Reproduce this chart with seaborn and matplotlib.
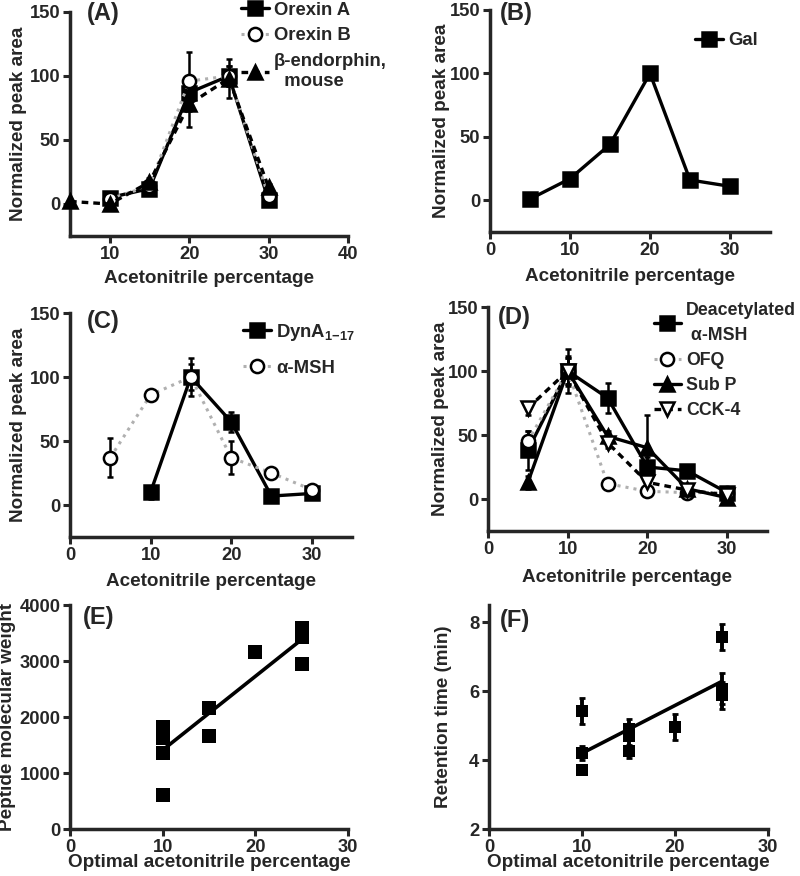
import matplotlib
matplotlib.use("Agg")
import matplotlib.pyplot as plt
import seaborn as sns

# ---- data ----
# (A)
a_x = [10, 15, 20, 25, 30]
orexin_a = [5, 12, 87, 100, 3]
orexin_a_err = [3, 3, 6, 8, 2]
orexin_b = [4, 14, 96, 100, 6]
orexin_b_err = [2, 3, 23, 8, 2]
bendo_x = [5, 10, 15, 20, 25, 30]
bendo = [2, 0, 17, 78, 98, 13]
bendo_err = [1, 5, 3, 18, 15, 3]

# (B)
b_x = [5, 10, 15, 20, 25, 30]
gal = [1, 17, 44, 100, 16, 11]
gal_err = [1, 2, 4, 3, 2, 2]

# (C)
dyn_x = [10, 15, 20, 25, 30]
dyn = [10, 100, 65, 7, 9]
dyn_err = [5, 15, 8, 2, 2]
msh_x = [5, 10, 15, 20, 25, 30]
msh = [37, 86, 100, 37, 25, 12]
msh_err = [15, 3, 10, 13, 3, 2]

# (D)
d_x = [5, 10, 15, 20, 25, 30]
deac_msh = [38, 100, 79, 25, 22, 5]
deac_msh_err = [15, 17, 12, 8, 3, 2]
ofq = [45, 100, 12, 6, 5, 5]
ofq_err = [8, 10, 2, 2, 2, 2]
subp = [13, 100, 49, 40, 8, 1]
subp_err = [5, 12, 4, 26, 3, 2]
cck4 = [71, 100, 44, 13, 7, 3]
cck4_err = [5, 10, 4, 8, 2, 2]

# (E)
e_x = [10, 10, 10, 10, 10, 15, 15, 20, 25, 25, 25]
e_mw = [1827, 1708, 1619, 1351, 607, 2155, 1667, 3167, 3583, 3435, 2946]

# (F)
f_x = [10, 10, 10, 15, 15, 15, 20, 25, 25, 25]
f_rt = [5.43, 4.21, 3.71, 4.9, 4.7, 4.25, 4.97, 7.57, 6.07, 5.88]
f_err = [0.38, 0.2, 0.12, 0.3, 0.3, 0.2, 0.38, 0.38, 0.45, 0.4]

sns.set_style("ticks")
plt.rcParams["font.family"] = ["Liberation Sans", "DejaVu Sans"]
plt.rcParams["font.weight"] = "bold"
plt.rcParams["axes.labelweight"] = "bold"
plt.rcParams["mathtext.default"] = "regular"

STYLES = {
    "sq": dict(marker="s", color="black", markerfacecolor="black", linestyle="-", lw=2.4),
    "circ": dict(marker="o", color="#b0b0b0", markerfacecolor="white", linestyle=":", lw=2.2),
    "tri": dict(marker="^", color="black", markerfacecolor="black", linestyle=(0, (2, 1.5)), lw=2.4),
    "tri_solid": dict(marker="^", color="black", markerfacecolor="black", linestyle="-", lw=2.4),
    "dtri": dict(marker="v", color="black", markerfacecolor="white", linestyle=(0, (2, 1.5)), lw=2.4),
}


def series(ax, x, y, err, kind, label):
    ax.errorbar(x, y, yerr=err, fmt="none", ecolor="black", elinewidth=1.8,
                capsize=2.5, capthick=1.8, zorder=2)
    sns.lineplot(x=x, y=y, ax=ax, label=label, markersize=9.5,
                 markeredgecolor="black", markeredgewidth=1.8, zorder=3,
                 clip_on=False, **STYLES[kind])


def style_axes(ax, tag, tx, ty):
    sns.despine(ax=ax)
    for s in ["left", "bottom"]:
        ax.spines[s].set_linewidth(2.5)
    ax.tick_params(direction="out", length=5, width=2.2, labelsize=13.2, pad=2)
    ax.text(tx, ty, tag, transform=ax.transAxes, fontsize=17, fontweight="bold",
            va="center", ha="left")


def peak_axes(ax, xlim, xticks, tag, tx, ty, xpad, ypad):
    ax.set_xlim(*xlim)
    ax.set_ylim(-25, 150)
    ax.set_xticks(xticks)
    ax.set_yticks([0, 50, 100, 150])
    ax.set_xlabel("Acetonitrile percentage", fontsize=13.6, labelpad=xpad)
    ax.set_ylabel("Normalized peak area", fontsize=13.6, labelpad=ypad)
    style_axes(ax, tag, tx, ty)


fig = plt.figure(figsize=(8, 8.76), dpi=100)
H = 876.0
axA = fig.add_axes([70 / 800, (H - 236) / H, 278 / 800, 224 / H])
axB = fig.add_axes([490 / 800, (H - 232) / H, 280 / 800, 222 / H])
axC = fig.add_axes([70 / 800, (H - 537) / H, 282 / 800, 224 / H])
axD = fig.add_axes([488 / 800, (H - 531) / H, 279 / 800, 224 / H])
axE = fig.add_axes([70 / 800, (H - 829) / H, 278 / 800, 224 / H])
axF = fig.add_axes([489 / 800, (H - 829) / H, 279 / 800, 224 / H])

leg_kw = dict(frameon=False, fontsize=13.3, handlelength=1.5, handletextpad=0.3,
              borderpad=0, borderaxespad=0)

# (A)
series(axA, a_x, orexin_a, orexin_a_err, "sq", "Orexin A")
series(axA, a_x, orexin_b, orexin_b_err, "circ", "Orexin B")
series(axA, bendo_x, bendo, bendo_err, "tri", "β-endorphin,\n  mouse")
peak_axes(axA, (5, 40), [10, 20, 30, 40], "(A)", 0.06, 0.995, 5, 2)
leg = axA.legend(loc="upper left", bbox_to_anchor=(0.615, 1.045), labelspacing=0.45, **leg_kw)
leg.get_texts()[2].set_linespacing(1.3)

# (B)
series(axB, b_x, gal, gal_err, "sq", "Gal")
peak_axes(axB, (0, 35), [0, 10, 20, 30], "(B)", 0.035, 0.985, 7, 0)
axB.legend(loc="upper left", bbox_to_anchor=(0.732, 0.9), **leg_kw)

# (C)
series(axC, dyn_x, dyn, dyn_err, "sq", "DynA$_{1{-}17}$")
series(axC, msh_x, msh, msh_err, "circ", "α-MSH")
peak_axes(axC, (0, 35), [0, 10, 20, 30], "(C)", 0.06, 0.96, 7, 2)
axC.legend(loc="upper left", bbox_to_anchor=(0.613, 0.96), labelspacing=0.9, **leg_kw)

# (D)
series(axD, d_x, deac_msh, deac_msh_err, "sq", "Deacetylated\n α-MSH")
series(axD, d_x, ofq, ofq_err, "circ", "OFQ")
series(axD, d_x, subp, subp_err, "tri_solid", "Sub P")
series(axD, d_x, cck4, cck4_err, "dtri", "CCK-4")
peak_axes(axD, (0, 35), [0, 10, 20, 30], "(D)", 0.036, 0.955, 8, -1)
d_kw = dict(leg_kw, fontsize=12.8)
leg = axD.legend(loc="upper left", bbox_to_anchor=(0.595, 1.022), labelspacing=0.45, **d_kw)
leg.get_texts()[0].set_linespacing(1.6)

# (E)
sns.regplot(x=e_x, y=e_mw, ax=axE, ci=None, marker="s", color="black",
            scatter_kws=dict(s=100, linewidths=0, alpha=1), line_kws=dict(lw=2.6))
axE.set_xlim(0, 30)
axE.set_ylim(0, 4000)
axE.set_xticks([0, 10, 20, 30])
axE.set_yticks([0, 1000, 2000, 3000, 4000])
axE.set_xlabel("Optimal acetonitrile percentage", fontsize=13.6, labelpad=-1)
axE.set_ylabel("Peptide molecular weight", fontsize=13.6, labelpad=2)
style_axes(axE, "(E)", 0.047, 0.946)

# (F)
axF.errorbar(f_x, f_rt, yerr=f_err, fmt="none", ecolor="black", elinewidth=2.8,
             capsize=2, capthick=2)
sns.regplot(x=f_x, y=f_rt, ax=axF, ci=None, marker="s", color="black",
            scatter_kws=dict(s=85, linewidths=0, alpha=1), line_kws=dict(lw=2.6))
axF.set_xlim(0, 30)
axF.set_ylim(2, 8.5)
axF.set_xticks([0, 10, 20, 30])
axF.set_yticks([2, 4, 6, 8])
axF.set_xlabel("Optimal acetonitrile percentage", fontsize=13.6, labelpad=-1)
axF.set_ylabel("Retention time (min)", fontsize=13.6, labelpad=12)
style_axes(axF, "(F)", 0.04, 0.933)

fig.savefig("out.png", dpi=100)
